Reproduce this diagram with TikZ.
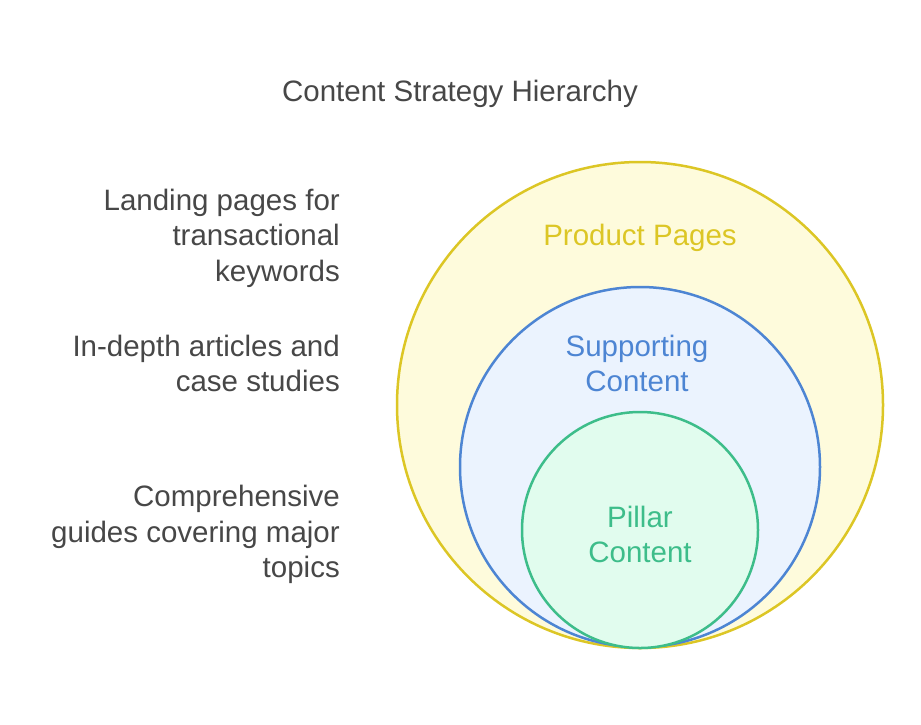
\documentclass[tikz,border=0pt]{standalone}
\usepackage{fontspec}
\setmainfont{Liberation Sans}
\definecolor{txtgray}{HTML}{474747}
\definecolor{prodline}{HTML}{DCC625}
\definecolor{prodfill}{HTML}{FEFBDC}
\definecolor{suppline}{HTML}{4D85D3}
\definecolor{suppfill}{HTML}{EBF3FE}
\definecolor{pillline}{HTML}{3DBD8A}
\definecolor{pillfill}{HTML}{E1FCEE}
\tikzset{
  ring/.style={circle,inner sep=0pt,line width=2.5pt},
  desc/.style={anchor=east,align=right,text=txtgray,inner sep=0pt},
  lbl/.style={align=center,inner sep=0pt}
}
\begin{document}
\begin{tikzpicture}[x=1pt,y=-1pt,font=\fontsize{29.5}{35.5}\selectfont]
\useasboundingbox[fill=white](0,0) rectangle (921,724);
% title
\node[text=txtgray,inner sep=0pt] (title) at (460,94) {Content Strategy Hierarchy};
% nested circles
\node[ring,draw=prodline,fill=prodfill,minimum size=486pt] (product) at (640,405) {};
\node[ring,draw=suppline,fill=suppfill,minimum size=360pt] (supporting) at (640,467) {};
\node[ring,draw=pillline,fill=pillfill,minimum size=236pt] (pillar) at (640,530) {};
% circle labels
\node[lbl,text=prodline] (prodlbl) at (640,238) {Product Pages};
\node[lbl,text=suppline] (supplbl) at (637,363.5) {Supporting\\Content};
\node[lbl,text=pillline] (pilllbl) at (640,534.5) {Pillar\\Content};
% descriptions
\node[desc] (proddesc) at (340,238) {Landing pages for\\transactional\\keywords};
\node[desc] (suppdesc) at (340,363.5) {In-depth articles and\\case studies};
\node[desc] (pilldesc) at (340,534.5) {Comprehensive\\guides covering major\\topics};
\end{tikzpicture}
\end{document}
